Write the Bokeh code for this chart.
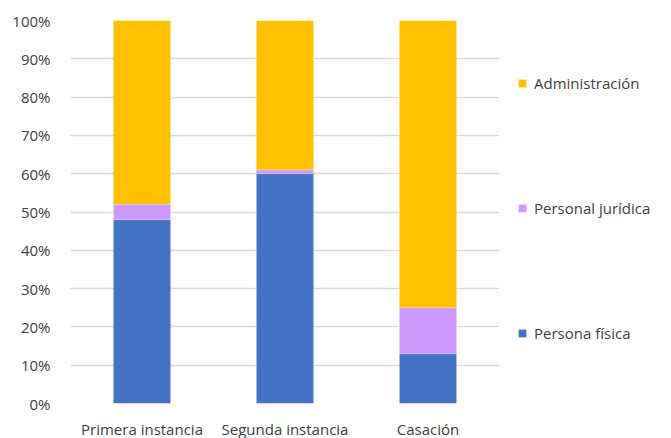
from bokeh.plotting import figure
from bokeh.models import ColumnDataSource, FactorRange, Range1d, Legend, LegendItem, NumeralTickFormatter, FixedTicker
from bokeh.embed import file_html
from bokeh.resources import INLINE

categories = ["Primera instancia", "Segunda instancia", "Casación"]
series = ["Persona física", "Personal jurídica", "Administración"]
persona_fisica = [48, 60, 13]
personal_juridica = [4, 1, 12]
administracion = [48, 39, 75]
y_ticks = [0, 10, 20, 30, 40, 50, 60, 70, 80, 90, 100]
colors = ["#4472C4", "#CC99FF", "#FFC000"]

FONT = "Open Sans"

src = ColumnDataSource(data=dict(
    cat=categories,
    pf=[v / 100 for v in persona_fisica],
    pj=[v / 100 for v in personal_juridica],
    ad=[v / 100 for v in administracion],
))

p = figure(x_range=FactorRange(*categories, range_padding=0), y_range=Range1d(0, 1),
           frame_width=429, frame_height=383, output_backend="svg", toolbar_location=None,
           min_border_left=70, min_border_top=20, min_border_bottom=26, min_border_right=5)
p.outline_line_color = None
rs = p.vbar_stack(["pf", "pj", "ad"], x="cat", width=0.4, source=src, color=colors,
                  line_color="white", line_alpha=0.4, line_width=0.5)

p.yaxis.ticker = FixedTicker(ticks=[t / 100 for t in y_ticks])
p.yaxis.formatter = NumeralTickFormatter(format="0%")
for ax in (p.xaxis[0], p.yaxis[0]):
    ax.axis_line_color = None
    ax.major_tick_line_color = None
    ax.minor_tick_line_color = None
    ax.major_label_text_font = FONT
    ax.major_label_text_font_size = "15px"
    ax.major_label_text_color = "#404040"
p.yaxis.major_label_standoff = 14
p.xaxis.major_label_standoff = 9
p.xgrid.grid_line_color = None
p.ygrid.grid_line_color = "#d9d9d9"
p.ygrid.grid_line_width = 1.5

items = [LegendItem(label=series[i], renderers=[rs[i]]) for i in (2, 1, 0)]
legend = Legend(items=items, location=(18, 60), glyph_width=10, glyph_height=10,
                label_text_font=FONT, label_text_font_size="15px", label_text_color="#404040",
                spacing=105, border_line_color=None, padding=0, margin=0, label_standoff=7)
p.add_layout(legend, "right")

open("out.html", "w").write(file_html(p, INLINE))
